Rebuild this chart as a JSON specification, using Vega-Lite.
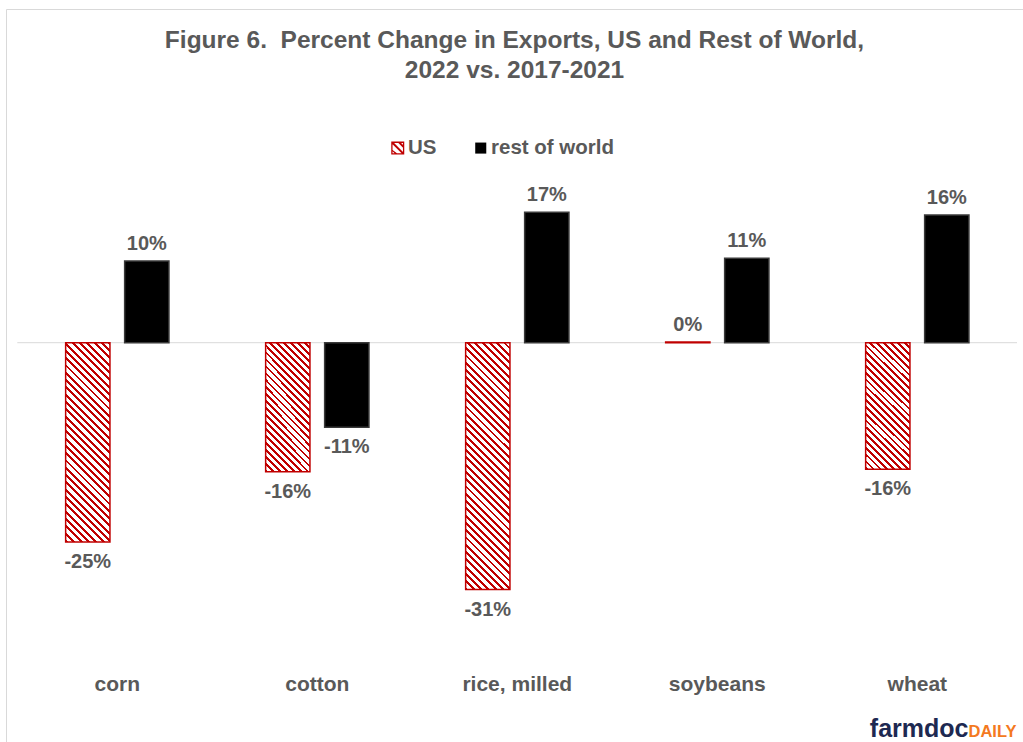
{
  "$schema": "https://vega.github.io/schema/vega-lite/v6.json",
  "width": 1017,
  "height": 733,
  "autosize": {"type": "none"},
  "padding": {"left": 6, "top": 9, "right": 0, "bottom": 0},
  "background": "#ffffff",
  "config": {
    "view": {"stroke": null},
    "font": "Liberation Sans",
    "locale": {"number": {"decimal": ".", "thousands": ",", "grouping": [3], "currency": ["$", ""], "minus": "-"}}
  },
  "title": {
    "text": ["Figure 6.\u00a0 Percent Change in Exports, US and Rest of World,", "2022 vs. 2017-2021"],
    "font": "Liberation Sans",
    "fontSize": 24.5,
    "fontWeight": "bold",
    "color": "#595959",
    "anchor": "middle",
    "frame": "group",
    "baseline": "top",
    "lineHeight": 30,
    "offset": -74
  },
  "data": {
    "values": [
      {"crop": "corn", "series": "US", "value": -0.2539},
      {"crop": "corn", "series": "rest of world", "value": 0.104},
      {"crop": "cotton", "series": "US", "value": -0.1645},
      {"crop": "cotton", "series": "rest of world", "value": -0.1078},
      {"crop": "rice, milled", "series": "US", "value": -0.3145},
      {"crop": "rice, milled", "series": "rest of world", "value": 0.1661},
      {"crop": "soybeans", "series": "US", "value": 0.001},
      {"crop": "soybeans", "series": "rest of world", "value": 0.1075},
      {"crop": "wheat", "series": "US", "value": -0.1613},
      {"crop": "wheat", "series": "rest of world", "value": 0.1627}
    ]
  },
  "layer": [
    {
      "data": {"values": [{}]},
      "layer": [
        {
          "mark": {"type": "rule", "color": "#d9d9d9", "strokeWidth": 1},
          "encoding": {
            "x": {"datum": 0, "type": "quantitative", "scale": {"domain": [-0.011303, 1.006002], "nice": false, "zero": false}, "axis": null},
            "x2": {"datum": 1},
            "y": {"datum": 0, "type": "quantitative", "scale": {"domain": [-0.5087, 0.4251], "nice": false}, "axis": {"title": null, "labels": false, "ticks": false, "grid": false, "domainColor": "#d9d9d9"}}
          }
        },
        {
          "mark": {"type": "text", "text": "farmdoc", "font": "Liberation Sans", "fontSize": 25, "fontWeight": "bold", "color": "#1d2951", "align": "right", "baseline": "alphabetic"},
          "encoding": {
            "x": {"datum": 0.9515, "type": "quantitative", "axis": null},
            "y": {"datum": -0.5029, "type": "quantitative", "axis": {"title": null, "labels": false, "ticks": false, "grid": false, "domainColor": "#d9d9d9"}}
          }
        },
        {
          "mark": {"type": "text", "text": "DAILY", "font": "Liberation Sans", "fontSize": 16.5, "fontWeight": "bold", "color": "#f47920", "align": "left", "baseline": "alphabetic"},
          "encoding": {
            "x": {"datum": 0.9515, "type": "quantitative", "axis": null},
            "y": {"datum": -0.5029, "type": "quantitative", "axis": {"title": null, "labels": false, "ticks": false, "grid": false, "domainColor": "#d9d9d9"}}
          }
        }
      ]
    },
    {
      "layer": [
        {
          "mark": {"type": "bar"},
          "encoding": {
            "x": {"field": "crop", "type": "nominal", "sort": ["corn", "cotton", "rice, milled", "soybeans", "wheat"], "scale": {"paddingInner": 0.4835, "paddingOuter": 0.28425, "align": 0.5246}, "axis": {"orient": "top", "title": null, "labels": false, "ticks": false, "grid": false, "domainColor": "#d9d9d9"}},
            "xOffset": {"field": "series", "type": "nominal", "sort": ["US", "rest of world"], "scale": {"paddingInner": 0.249, "paddingOuter": 0}},
            "y": {"field": "value", "type": "quantitative", "scale": {"domain": [-0.5087, 0.4251], "nice": false}, "axis": {"title": null, "labels": false, "ticks": false, "grid": false, "domainColor": "#d9d9d9"}},
            "fill": {
              "field": "series",
              "type": "nominal",
              "scale": {"domain": ["US", "rest of world"], "range": ["#c00000", "#000000"]},
              "condition": [
                {"test": "datum.series === 'US' && datum.crop === 'corn'", "value": {"gradient": "linear", "x1": 0, "y1": 1, "x2": 0.2589, "y2": -0.1647, "stops": [
                  {"offset": 0, "color": "#c00000"}, {"offset": 0.012, "color": "#c00000"}, {"offset": 0.012, "color": "#fff"}, {"offset": 0.03, "color": "#fff"},
                  {"offset": 0.03, "color": "#c00000"}, {"offset": 0.042, "color": "#c00000"}, {"offset": 0.042, "color": "#fff"}, {"offset": 0.06, "color": "#fff"},
                  {"offset": 0.06, "color": "#c00000"}, {"offset": 0.072, "color": "#c00000"}, {"offset": 0.072, "color": "#fff"}, {"offset": 0.09, "color": "#fff"},
                  {"offset": 0.09, "color": "#c00000"}, {"offset": 0.102, "color": "#c00000"}, {"offset": 0.102, "color": "#fff"}, {"offset": 0.12, "color": "#fff"},
                  {"offset": 0.12, "color": "#c00000"}, {"offset": 0.132, "color": "#c00000"}, {"offset": 0.132, "color": "#fff"}, {"offset": 0.15, "color": "#fff"},
                  {"offset": 0.15, "color": "#c00000"}, {"offset": 0.162, "color": "#c00000"}, {"offset": 0.162, "color": "#fff"}, {"offset": 0.18, "color": "#fff"},
                  {"offset": 0.18, "color": "#c00000"}, {"offset": 0.192, "color": "#c00000"}, {"offset": 0.192, "color": "#fff"}, {"offset": 0.21, "color": "#fff"},
                  {"offset": 0.21, "color": "#c00000"}, {"offset": 0.222, "color": "#c00000"}, {"offset": 0.222, "color": "#fff"}, {"offset": 0.24, "color": "#fff"},
                  {"offset": 0.24, "color": "#c00000"}, {"offset": 0.252, "color": "#c00000"}, {"offset": 0.252, "color": "#fff"}, {"offset": 0.27, "color": "#fff"},
                  {"offset": 0.27, "color": "#c00000"}, {"offset": 0.282, "color": "#c00000"}, {"offset": 0.282, "color": "#fff"}, {"offset": 0.3, "color": "#fff"},
                  {"offset": 0.3, "color": "#c00000"}, {"offset": 0.312, "color": "#c00000"}, {"offset": 0.312, "color": "#fff"}, {"offset": 0.33, "color": "#fff"},
                  {"offset": 0.33, "color": "#c00000"}, {"offset": 0.342, "color": "#c00000"}, {"offset": 0.342, "color": "#fff"}, {"offset": 0.36, "color": "#fff"},
                  {"offset": 0.36, "color": "#c00000"}, {"offset": 0.372, "color": "#c00000"}, {"offset": 0.372, "color": "#fff"}, {"offset": 0.39, "color": "#fff"},
                  {"offset": 0.39, "color": "#c00000"}, {"offset": 0.402, "color": "#c00000"}, {"offset": 0.402, "color": "#fff"}, {"offset": 0.42, "color": "#fff"},
                  {"offset": 0.42, "color": "#c00000"}, {"offset": 0.432, "color": "#c00000"}, {"offset": 0.432, "color": "#fff"}, {"offset": 0.45, "color": "#fff"},
                  {"offset": 0.45, "color": "#c00000"}, {"offset": 0.462, "color": "#c00000"}, {"offset": 0.462, "color": "#fff"}, {"offset": 0.48, "color": "#fff"},
                  {"offset": 0.48, "color": "#c00000"}, {"offset": 0.492, "color": "#c00000"}, {"offset": 0.492, "color": "#fff"}, {"offset": 0.51, "color": "#fff"},
                  {"offset": 0.51, "color": "#c00000"}, {"offset": 0.522, "color": "#c00000"}, {"offset": 0.522, "color": "#fff"}, {"offset": 0.54, "color": "#fff"},
                  {"offset": 0.54, "color": "#c00000"}, {"offset": 0.552, "color": "#c00000"}, {"offset": 0.552, "color": "#fff"}, {"offset": 0.57, "color": "#fff"},
                  {"offset": 0.57, "color": "#c00000"}, {"offset": 0.582, "color": "#c00000"}, {"offset": 0.582, "color": "#fff"}, {"offset": 0.6, "color": "#fff"},
                  {"offset": 0.6, "color": "#c00000"}, {"offset": 0.612, "color": "#c00000"}, {"offset": 0.612, "color": "#fff"}, {"offset": 0.63, "color": "#fff"},
                  {"offset": 0.63, "color": "#c00000"}, {"offset": 0.642, "color": "#c00000"}, {"offset": 0.642, "color": "#fff"}, {"offset": 0.66, "color": "#fff"},
                  {"offset": 0.66, "color": "#c00000"}, {"offset": 0.672, "color": "#c00000"}, {"offset": 0.672, "color": "#fff"}, {"offset": 0.69, "color": "#fff"},
                  {"offset": 0.69, "color": "#c00000"}, {"offset": 0.702, "color": "#c00000"}, {"offset": 0.702, "color": "#fff"}, {"offset": 0.72, "color": "#fff"},
                  {"offset": 0.72, "color": "#c00000"}, {"offset": 0.732, "color": "#c00000"}, {"offset": 0.732, "color": "#fff"}, {"offset": 0.75, "color": "#fff"},
                  {"offset": 0.75, "color": "#c00000"}, {"offset": 0.762, "color": "#c00000"}, {"offset": 0.762, "color": "#fff"}, {"offset": 0.78, "color": "#fff"},
                  {"offset": 0.78, "color": "#c00000"}, {"offset": 0.792, "color": "#c00000"}, {"offset": 0.792, "color": "#fff"}, {"offset": 0.81, "color": "#fff"},
                  {"offset": 0.81, "color": "#c00000"}, {"offset": 0.822, "color": "#c00000"}, {"offset": 0.822, "color": "#fff"}, {"offset": 0.84, "color": "#fff"},
                  {"offset": 0.84, "color": "#c00000"}, {"offset": 0.852, "color": "#c00000"}, {"offset": 0.852, "color": "#fff"}, {"offset": 0.87, "color": "#fff"},
                  {"offset": 0.87, "color": "#c00000"}, {"offset": 0.882, "color": "#c00000"}, {"offset": 0.882, "color": "#fff"}, {"offset": 0.9, "color": "#fff"},
                  {"offset": 0.9, "color": "#c00000"}, {"offset": 0.912, "color": "#c00000"}, {"offset": 0.912, "color": "#fff"}, {"offset": 0.93, "color": "#fff"},
                  {"offset": 0.93, "color": "#c00000"}, {"offset": 0.942, "color": "#c00000"}, {"offset": 0.942, "color": "#fff"}, {"offset": 0.96, "color": "#fff"},
                  {"offset": 0.96, "color": "#c00000"}, {"offset": 0.972, "color": "#c00000"}, {"offset": 0.972, "color": "#fff"}, {"offset": 0.99, "color": "#fff"},
                  {"offset": 0.99, "color": "#c00000"}, {"offset": 1, "color": "#c00000"}
                ]}},
                {"test": "datum.series === 'US' && datum.crop === 'rice, milled'", "value": {"gradient": "linear", "x1": 0, "y1": 1, "x2": 0.205, "y2": -0.1427, "stops": [
                  {"offset": 0, "color": "#c00000"}, {"offset": 0.01, "color": "#c00000"}, {"offset": 0.01, "color": "#fff"}, {"offset": 0.025, "color": "#fff"},
                  {"offset": 0.025, "color": "#c00000"}, {"offset": 0.035, "color": "#c00000"}, {"offset": 0.035, "color": "#fff"}, {"offset": 0.05, "color": "#fff"},
                  {"offset": 0.05, "color": "#c00000"}, {"offset": 0.06, "color": "#c00000"}, {"offset": 0.06, "color": "#fff"}, {"offset": 0.075, "color": "#fff"},
                  {"offset": 0.075, "color": "#c00000"}, {"offset": 0.085, "color": "#c00000"}, {"offset": 0.085, "color": "#fff"}, {"offset": 0.1, "color": "#fff"},
                  {"offset": 0.1, "color": "#c00000"}, {"offset": 0.11, "color": "#c00000"}, {"offset": 0.11, "color": "#fff"}, {"offset": 0.125, "color": "#fff"},
                  {"offset": 0.125, "color": "#c00000"}, {"offset": 0.135, "color": "#c00000"}, {"offset": 0.135, "color": "#fff"}, {"offset": 0.15, "color": "#fff"},
                  {"offset": 0.15, "color": "#c00000"}, {"offset": 0.16, "color": "#c00000"}, {"offset": 0.16, "color": "#fff"}, {"offset": 0.175, "color": "#fff"},
                  {"offset": 0.175, "color": "#c00000"}, {"offset": 0.185, "color": "#c00000"}, {"offset": 0.185, "color": "#fff"}, {"offset": 0.2, "color": "#fff"},
                  {"offset": 0.2, "color": "#c00000"}, {"offset": 0.21, "color": "#c00000"}, {"offset": 0.21, "color": "#fff"}, {"offset": 0.225, "color": "#fff"},
                  {"offset": 0.225, "color": "#c00000"}, {"offset": 0.235, "color": "#c00000"}, {"offset": 0.235, "color": "#fff"}, {"offset": 0.25, "color": "#fff"},
                  {"offset": 0.25, "color": "#c00000"}, {"offset": 0.26, "color": "#c00000"}, {"offset": 0.26, "color": "#fff"}, {"offset": 0.275, "color": "#fff"},
                  {"offset": 0.275, "color": "#c00000"}, {"offset": 0.285, "color": "#c00000"}, {"offset": 0.285, "color": "#fff"}, {"offset": 0.3, "color": "#fff"},
                  {"offset": 0.3, "color": "#c00000"}, {"offset": 0.31, "color": "#c00000"}, {"offset": 0.31, "color": "#fff"}, {"offset": 0.325, "color": "#fff"},
                  {"offset": 0.325, "color": "#c00000"}, {"offset": 0.335, "color": "#c00000"}, {"offset": 0.335, "color": "#fff"}, {"offset": 0.35, "color": "#fff"},
                  {"offset": 0.35, "color": "#c00000"}, {"offset": 0.36, "color": "#c00000"}, {"offset": 0.36, "color": "#fff"}, {"offset": 0.375, "color": "#fff"},
                  {"offset": 0.375, "color": "#c00000"}, {"offset": 0.385, "color": "#c00000"}, {"offset": 0.385, "color": "#fff"}, {"offset": 0.4, "color": "#fff"},
                  {"offset": 0.4, "color": "#c00000"}, {"offset": 0.41, "color": "#c00000"}, {"offset": 0.41, "color": "#fff"}, {"offset": 0.425, "color": "#fff"},
                  {"offset": 0.425, "color": "#c00000"}, {"offset": 0.435, "color": "#c00000"}, {"offset": 0.435, "color": "#fff"}, {"offset": 0.45, "color": "#fff"},
                  {"offset": 0.45, "color": "#c00000"}, {"offset": 0.46, "color": "#c00000"}, {"offset": 0.46, "color": "#fff"}, {"offset": 0.475, "color": "#fff"},
                  {"offset": 0.475, "color": "#c00000"}, {"offset": 0.485, "color": "#c00000"}, {"offset": 0.485, "color": "#fff"}, {"offset": 0.5, "color": "#fff"},
                  {"offset": 0.5, "color": "#c00000"}, {"offset": 0.51, "color": "#c00000"}, {"offset": 0.51, "color": "#fff"}, {"offset": 0.525, "color": "#fff"},
                  {"offset": 0.525, "color": "#c00000"}, {"offset": 0.535, "color": "#c00000"}, {"offset": 0.535, "color": "#fff"}, {"offset": 0.55, "color": "#fff"},
                  {"offset": 0.55, "color": "#c00000"}, {"offset": 0.56, "color": "#c00000"}, {"offset": 0.56, "color": "#fff"}, {"offset": 0.575, "color": "#fff"},
                  {"offset": 0.575, "color": "#c00000"}, {"offset": 0.585, "color": "#c00000"}, {"offset": 0.585, "color": "#fff"}, {"offset": 0.6, "color": "#fff"},
                  {"offset": 0.6, "color": "#c00000"}, {"offset": 0.61, "color": "#c00000"}, {"offset": 0.61, "color": "#fff"}, {"offset": 0.625, "color": "#fff"},
                  {"offset": 0.625, "color": "#c00000"}, {"offset": 0.635, "color": "#c00000"}, {"offset": 0.635, "color": "#fff"}, {"offset": 0.65, "color": "#fff"},
                  {"offset": 0.65, "color": "#c00000"}, {"offset": 0.66, "color": "#c00000"}, {"offset": 0.66, "color": "#fff"}, {"offset": 0.675, "color": "#fff"},
                  {"offset": 0.675, "color": "#c00000"}, {"offset": 0.685, "color": "#c00000"}, {"offset": 0.685, "color": "#fff"}, {"offset": 0.7, "color": "#fff"},
                  {"offset": 0.7, "color": "#c00000"}, {"offset": 0.71, "color": "#c00000"}, {"offset": 0.71, "color": "#fff"}, {"offset": 0.725, "color": "#fff"},
                  {"offset": 0.725, "color": "#c00000"}, {"offset": 0.735, "color": "#c00000"}, {"offset": 0.735, "color": "#fff"}, {"offset": 0.75, "color": "#fff"},
                  {"offset": 0.75, "color": "#c00000"}, {"offset": 0.76, "color": "#c00000"}, {"offset": 0.76, "color": "#fff"}, {"offset": 0.775, "color": "#fff"},
                  {"offset": 0.775, "color": "#c00000"}, {"offset": 0.785, "color": "#c00000"}, {"offset": 0.785, "color": "#fff"}, {"offset": 0.8, "color": "#fff"},
                  {"offset": 0.8, "color": "#c00000"}, {"offset": 0.81, "color": "#c00000"}, {"offset": 0.81, "color": "#fff"}, {"offset": 0.825, "color": "#fff"},
                  {"offset": 0.825, "color": "#c00000"}, {"offset": 0.835, "color": "#c00000"}, {"offset": 0.835, "color": "#fff"}, {"offset": 0.85, "color": "#fff"},
                  {"offset": 0.85, "color": "#c00000"}, {"offset": 0.86, "color": "#c00000"}, {"offset": 0.86, "color": "#fff"}, {"offset": 0.875, "color": "#fff"},
                  {"offset": 0.875, "color": "#c00000"}, {"offset": 0.885, "color": "#c00000"}, {"offset": 0.885, "color": "#fff"}, {"offset": 0.9, "color": "#fff"},
                  {"offset": 0.9, "color": "#c00000"}, {"offset": 0.91, "color": "#c00000"}, {"offset": 0.91, "color": "#fff"}, {"offset": 0.925, "color": "#fff"},
                  {"offset": 0.925, "color": "#c00000"}, {"offset": 0.935, "color": "#c00000"}, {"offset": 0.935, "color": "#fff"}, {"offset": 0.95, "color": "#fff"},
                  {"offset": 0.95, "color": "#c00000"}, {"offset": 0.96, "color": "#c00000"}, {"offset": 0.96, "color": "#fff"}, {"offset": 0.975, "color": "#fff"},
                  {"offset": 0.975, "color": "#c00000"}, {"offset": 0.985, "color": "#c00000"}, {"offset": 0.985, "color": "#fff"}, {"offset": 1, "color": "#fff"}
                ]}},
                {"test": "datum.series === 'US' && (datum.crop === 'cotton' || datum.crop === 'wheat')", "value": {"gradient": "linear", "x1": 0, "y1": 1, "x2": 0.4165, "y2": -0.2022, "stops": [
                  {"offset": 0, "color": "#c00000"}, {"offset": 0.016, "color": "#c00000"}, {"offset": 0.016, "color": "#fff"}, {"offset": 0.04, "color": "#fff"},
                  {"offset": 0.04, "color": "#c00000"}, {"offset": 0.056, "color": "#c00000"}, {"offset": 0.056, "color": "#fff"}, {"offset": 0.08, "color": "#fff"},
                  {"offset": 0.08, "color": "#c00000"}, {"offset": 0.096, "color": "#c00000"}, {"offset": 0.096, "color": "#fff"}, {"offset": 0.12, "color": "#fff"},
                  {"offset": 0.12, "color": "#c00000"}, {"offset": 0.136, "color": "#c00000"}, {"offset": 0.136, "color": "#fff"}, {"offset": 0.16, "color": "#fff"},
                  {"offset": 0.16, "color": "#c00000"}, {"offset": 0.176, "color": "#c00000"}, {"offset": 0.176, "color": "#fff"}, {"offset": 0.2, "color": "#fff"},
                  {"offset": 0.2, "color": "#c00000"}, {"offset": 0.216, "color": "#c00000"}, {"offset": 0.216, "color": "#fff"}, {"offset": 0.24, "color": "#fff"},
                  {"offset": 0.24, "color": "#c00000"}, {"offset": 0.256, "color": "#c00000"}, {"offset": 0.256, "color": "#fff"}, {"offset": 0.28, "color": "#fff"},
                  {"offset": 0.28, "color": "#c00000"}, {"offset": 0.296, "color": "#c00000"}, {"offset": 0.296, "color": "#fff"}, {"offset": 0.32, "color": "#fff"},
                  {"offset": 0.32, "color": "#c00000"}, {"offset": 0.336, "color": "#c00000"}, {"offset": 0.336, "color": "#fff"}, {"offset": 0.36, "color": "#fff"},
                  {"offset": 0.36, "color": "#c00000"}, {"offset": 0.376, "color": "#c00000"}, {"offset": 0.376, "color": "#fff"}, {"offset": 0.4, "color": "#fff"},
                  {"offset": 0.4, "color": "#c00000"}, {"offset": 0.416, "color": "#c00000"}, {"offset": 0.416, "color": "#fff"}, {"offset": 0.44, "color": "#fff"},
                  {"offset": 0.44, "color": "#c00000"}, {"offset": 0.456, "color": "#c00000"}, {"offset": 0.456, "color": "#fff"}, {"offset": 0.48, "color": "#fff"},
                  {"offset": 0.48, "color": "#c00000"}, {"offset": 0.496, "color": "#c00000"}, {"offset": 0.496, "color": "#fff"}, {"offset": 0.52, "color": "#fff"},
                  {"offset": 0.52, "color": "#c00000"}, {"offset": 0.536, "color": "#c00000"}, {"offset": 0.536, "color": "#fff"}, {"offset": 0.56, "color": "#fff"},
                  {"offset": 0.56, "color": "#c00000"}, {"offset": 0.576, "color": "#c00000"}, {"offset": 0.576, "color": "#fff"}, {"offset": 0.6, "color": "#fff"},
                  {"offset": 0.6, "color": "#c00000"}, {"offset": 0.616, "color": "#c00000"}, {"offset": 0.616, "color": "#fff"}, {"offset": 0.64, "color": "#fff"},
                  {"offset": 0.64, "color": "#c00000"}, {"offset": 0.656, "color": "#c00000"}, {"offset": 0.656, "color": "#fff"}, {"offset": 0.68, "color": "#fff"},
                  {"offset": 0.68, "color": "#c00000"}, {"offset": 0.696, "color": "#c00000"}, {"offset": 0.696, "color": "#fff"}, {"offset": 0.72, "color": "#fff"},
                  {"offset": 0.72, "color": "#c00000"}, {"offset": 0.736, "color": "#c00000"}, {"offset": 0.736, "color": "#fff"}, {"offset": 0.76, "color": "#fff"},
                  {"offset": 0.76, "color": "#c00000"}, {"offset": 0.776, "color": "#c00000"}, {"offset": 0.776, "color": "#fff"}, {"offset": 0.8, "color": "#fff"},
                  {"offset": 0.8, "color": "#c00000"}, {"offset": 0.816, "color": "#c00000"}, {"offset": 0.816, "color": "#fff"}, {"offset": 0.84, "color": "#fff"},
                  {"offset": 0.84, "color": "#c00000"}, {"offset": 0.856, "color": "#c00000"}, {"offset": 0.856, "color": "#fff"}, {"offset": 0.88, "color": "#fff"},
                  {"offset": 0.88, "color": "#c00000"}, {"offset": 0.896, "color": "#c00000"}, {"offset": 0.896, "color": "#fff"}, {"offset": 0.92, "color": "#fff"},
                  {"offset": 0.92, "color": "#c00000"}, {"offset": 0.936, "color": "#c00000"}, {"offset": 0.936, "color": "#fff"}, {"offset": 0.96, "color": "#fff"},
                  {"offset": 0.96, "color": "#c00000"}, {"offset": 0.976, "color": "#c00000"}, {"offset": 0.976, "color": "#fff"}, {"offset": 1, "color": "#fff"}
                ]}}
              ],
              "legend": {
                "orient": "none",
                "legendX": 381.5,
                "legendY": 128.7,
                "direction": "horizontal",
                "title": null,
                "padding": 0,
                "symbolSize": 169,
                "symbolOpacity": 1,
                "symbolStrokeWidth": 0,
                "labelFont": "Liberation Sans",
                "labelFontSize": 20.5,
                "labelFontWeight": "bold",
                "labelColor": "#595959",
                "labelOffset": 0,
                "columnPadding": 34
              }
            },
            "stroke": {"condition": {"test": "datum.series === 'US'", "value": "#c00000"}, "value": "#3a3a3a"},
            "strokeWidth": {"value": 1.5}
          }
        },
        {
          "mark": {"type": "point", "filled": true, "opacity": 0},
          "encoding": {
            "x": {"field": "crop", "type": "nominal", "sort": ["corn", "cotton", "rice, milled", "soybeans", "wheat"], "axis": {"orient": "top", "title": null, "labels": false, "ticks": false, "grid": false, "domainColor": "#d9d9d9"}},
            "xOffset": {"field": "series", "type": "nominal", "sort": ["US", "rest of world"]},
            "y": {"field": "value", "type": "quantitative", "axis": {"title": null, "labels": false, "ticks": false, "grid": false, "domainColor": "#d9d9d9"}},
            "fill": {"field": "series", "type": "nominal"},
            "shape": {
              "field": "series",
              "type": "nominal",
              "scale": {"domain": ["US", "rest of world"], "range": [
                "M-1,-1L1,-1L1,1L-1,1ZM-0.8,-0.8L-0.8,0.8L0.8,0.8L0.8,-0.8ZM-1,-1L-0.785,-1L1,0.785L1,1L0.785,1L-1,-0.785ZM-0.135,-1L0.295,-1L1,-0.295L1,0.135ZM-1,0.135L0.135,1L-0.295,1L-1,0.295Z",
                "M-0.85,-0.85L0.85,-0.85L0.85,0.85L-0.85,0.85Z"
              ]},
              "legend": {
                "orient": "none",
                "legendX": 381.5,
                "legendY": 128.7,
                "direction": "horizontal",
                "title": null,
                "padding": 0,
                "symbolSize": 169,
                "symbolOpacity": 1,
                "symbolStrokeWidth": 0,
                "labelFont": "Liberation Sans",
                "labelFontSize": 20.5,
                "labelFontWeight": "bold",
                "labelColor": "#595959",
                "labelOffset": 0,
                "columnPadding": 34
              }
            }
          }
        },
        {
          "transform": [{"filter": "datum.value >= 0"}],
          "mark": {"type": "text", "font": "Liberation Sans", "fontSize": 20, "fontWeight": "bold", "color": "#595959", "baseline": "alphabetic", "dy": -11},
          "encoding": {
            "x": {"field": "crop", "type": "nominal", "sort": ["corn", "cotton", "rice, milled", "soybeans", "wheat"], "axis": {"orient": "top", "title": null, "labels": false, "ticks": false, "grid": false, "domainColor": "#d9d9d9"}},
            "xOffset": {"field": "series", "type": "nominal", "sort": ["US", "rest of world"]},
            "y": {"field": "value", "type": "quantitative", "axis": {"title": null, "labels": false, "ticks": false, "grid": false, "domainColor": "#d9d9d9"}},
            "text": {"field": "value", "type": "quantitative", "format": ".0%"}
          }
        },
        {
          "transform": [{"filter": "datum.value < 0"}],
          "mark": {"type": "text", "font": "Liberation Sans", "fontSize": 20, "fontWeight": "bold", "color": "#595959", "baseline": "alphabetic", "dy": 26},
          "encoding": {
            "x": {"field": "crop", "type": "nominal", "sort": ["corn", "cotton", "rice, milled", "soybeans", "wheat"], "axis": {"orient": "top", "title": null, "labels": false, "ticks": false, "grid": false, "domainColor": "#d9d9d9"}},
            "xOffset": {"field": "series", "type": "nominal", "sort": ["US", "rest of world"]},
            "y": {"field": "value", "type": "quantitative", "axis": {"title": null, "labels": false, "ticks": false, "grid": false, "domainColor": "#d9d9d9"}},
            "text": {"field": "value", "type": "quantitative", "format": ".0%"}
          }
        },
        {
          "transform": [{"filter": "datum.series === 'US'"}],
          "mark": {"type": "text", "font": "Liberation Sans", "fontSize": 21, "fontWeight": "bold", "color": "#595959", "baseline": "middle"},
          "encoding": {
            "x": {"field": "crop", "type": "nominal", "sort": ["corn", "cotton", "rice, milled", "soybeans", "wheat"], "axis": {"orient": "top", "title": null, "labels": false, "ticks": false, "grid": false, "domainColor": "#d9d9d9"}},
            "y": {"datum": -0.436, "type": "quantitative", "axis": {"title": null, "labels": false, "ticks": false, "grid": false, "domainColor": "#d9d9d9"}},
            "text": {"field": "crop", "type": "nominal"}
          }
        }
      ]
    }
  ],
  "resolve": {"scale": {"x": "independent"}, "axis": {"x": "independent"}}
}
